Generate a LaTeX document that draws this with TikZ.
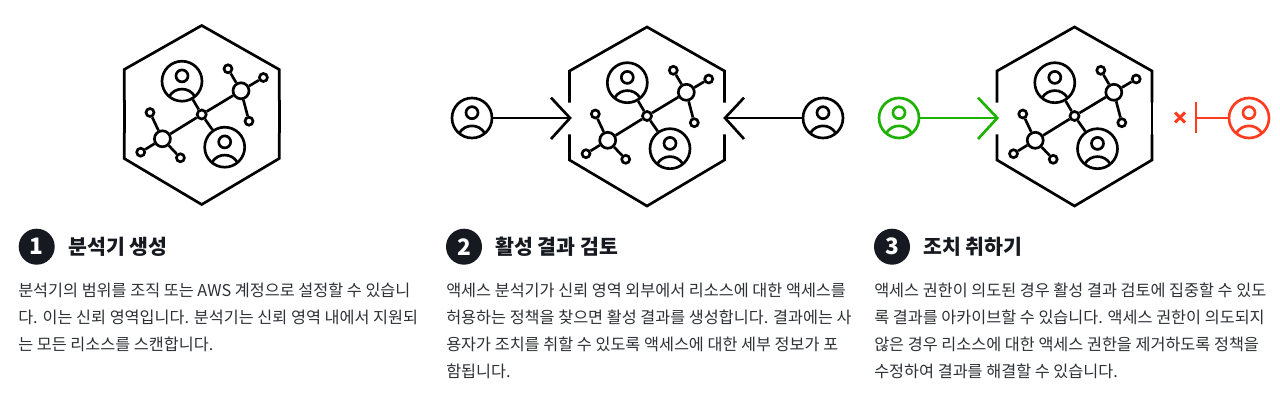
\documentclass[tikz,border=0pt]{standalone}
\usepackage{fontspec}
\setmainfont{Noto Sans CJK KR}
\usepackage{tikz}

\definecolor{inkblack}{HTML}{16191F}
\definecolor{allowgreen}{HTML}{1DB100}
\definecolor{denyred}{HTML}{FF3C1F}

\tikzset{
    stroke/.style={line width=2pt},
    ring/.style={circle,draw,stroke,minimum size=30pt,inner sep=0pt},
    hub/.style={circle,draw=black,stroke,minimum size=12pt,inner sep=0pt},
    leaf/.style={circle,draw=black,stroke,minimum size=6pt,inner sep=0pt},
    core/.style={circle,draw=black,stroke,minimum size=6.8pt,inner sep=0pt},
    badge/.style={circle,fill=inkblack,text=white,minimum size=27pt,inner sep=0pt,font=\fontsize{17}{17}\selectfont\bfseries},
    heading/.style={anchor=west,inner sep=0pt,text=inkblack,font=\fontsize{15.4}{15.4}\selectfont\bfseries},
    body/.style={anchor=north west,inner sep=0pt,align=left,text=inkblack!90,font=\fontsize{12.2}{20.2}\selectfont},
    pics/user/.style={code={
        \node [ring] (-ring) at (0,0) {};
        \draw [stroke] (0,5.3) circle [radius=4.5pt];
        \draw [stroke] (-12.6,-15) .. controls (-7,-5.5) and (7,-5.5) .. (12.6,-15);
    }},
    pics/network/.style={code={
        \node [core] (-core) at (0,0) {};
        \node [hub] (-huba) at (-39.3,-24.3) {};
        \node [hub] (-hubb) at (39.3,23.7) {};
        \node [leaf] (-la) at (-51.7,2) {};
        \node [leaf] (-lb) at (-61,-37.7) {};
        \node [leaf] (-lc) at (-21.3,-43.3) {};
        \node [leaf] (-ld) at (26.3,45.7) {};
        \node [leaf] (-le) at (61.7,37) {};
        \node [leaf] (-lf) at (47.3,-6.7) {};
        \pic [black] (-up) at (-19.7,33.3) {user};
        \pic [black] (-down) at (23,-32.7) {user};
        \draw [stroke] (-core) -- (-huba);
        \draw [stroke] (-core) -- (-hubb);
        \draw [stroke] (-core) -- (-up-ring);
        \draw [stroke] (-core) -- (-down-ring);
        \draw [stroke] (-huba) -- (-la);
        \draw [stroke] (-huba) -- (-lb);
        \draw [stroke] (-huba) -- (-lc);
        \draw [stroke] (-hubb) -- (-ld);
        \draw [stroke] (-hubb) -- (-le);
        \draw [stroke] (-hubb) -- (-lf);
        % hexagon, open at the sides
        \draw [stroke] (-77.5,13.3) -- (-77.5,45) -- (0,89) -- (77.5,45) -- (77.5,13.3);
        \draw [stroke] (-77.5,-18.3) -- (-77.5,-44) -- (0,-90) -- (77.5,-44) -- (77.5,-18.3);
    }},
}

\begin{document}
\begin{tikzpicture}[x=.75pt,y=.75pt]
    \useasboundingbox (0,0) rectangle (1280,400);

    % the three hexagons
    \coordinate (hexa) at (201.7,285.5);
    \coordinate (hexb) at (647,284);
    \coordinate (hexc) at (1074.5,284);

    \pic (neta) at (hexa) {network};
    \pic (netb) at (hexb) {network};
    \pic (netc) at (hexc) {network};

    % close the sides where nothing comes in
    \draw [stroke] ([shift={(-77.5,-19)}]hexa) -- ([shift={(-77.5,14)}]hexa);
    \draw [stroke] ([shift={(77.5,-19)}]hexa) -- ([shift={(77.5,14)}]hexa);
    \draw [stroke] ([shift={(77.5,-19)}]hexc) -- ([shift={(77.5,14)}]hexc);

    % step 2
    \pic [black] (usera) at (472,282) {user};
    \pic [black] (userb) at (823,282) {user};

    \coordinate (tipa) at (570,282);
    \coordinate (tipb) at (725,282);

    \draw [stroke] (usera-ring) -- (tipa);
    \draw [stroke] (userb-ring) -- (tipb);
    \draw [stroke] (551,302.3) -- (tipa) -- (551,261);
    \draw [stroke] (744,302.3) -- (tipb) -- (744,261);

    % step 3
    \pic [allowgreen] (userc) at (899,282) {user};
    \pic [denyred] (userd) at (1249,282) {user};

    \coordinate (tipc) at (997.3,282);
    \coordinate (bard) at (1196,282);

    \draw [stroke,allowgreen] (userc-ring) -- (tipc);
    \draw [stroke,allowgreen] (978,302.3) -- (tipc) -- (978,261);
    \draw [stroke,denyred] (userd-ring) -- (bard);
    \draw [stroke,denyred] (1196,297.7) -- (1196,266.7);
    \draw [stroke,denyred,line width=2.2pt] (1175,287.5) -- (1185,277.5);
    \draw [stroke,denyred,line width=2.2pt] (1175,277.5) -- (1185,287.5);

    % captions
    \node [badge] (numa) at (36.7,153.3) {1};
    \node [badge] (numb) at (464,153.3) {2};
    \node [badge] (numc) at (892,153.3) {3};

    \node [heading] (heada) at (68,153.3) {분석기 생성};
    \node [heading] (headb) at (495,153.3) {활성 결과 검토};
    \node [heading] (headc) at (923,153.3) {조치 취하기};

    \node [body] (texta) at (18,117) {분석기의 범위를 조직 또는 AWS 계정으로 설정할 수 있습니\\다. 이는 신뢰 영역입니다. 분석기는 신뢰 영역 내에서 지원되\\는 모든 리소스를 스캔합니다.};
    \node [body] (textb) at (446,117) {액세스 분석기가 신뢰 영역 외부에서 리소스에 대한 액세스를\\허용하는 정책을 찾으면 활성 결과를 생성합니다. 결과에는 사\\용자가 조치를 취할 수 있도록 액세스에 대한 세부 정보가 포\\함됩니다.};
    \node [body] (textc) at (874,117) {액세스 권한이 의도된 경우 활성 결과 검토에 집중할 수 있도\\록 결과를 아카이브할 수 있습니다. 액세스 권한이 의도되지\\않은 경우 리소스에 대한 액세스 권한을 제거하도록 정책을\\수정하여 결과를 해결할 수 있습니다.};
\end{tikzpicture}
\end{document}
